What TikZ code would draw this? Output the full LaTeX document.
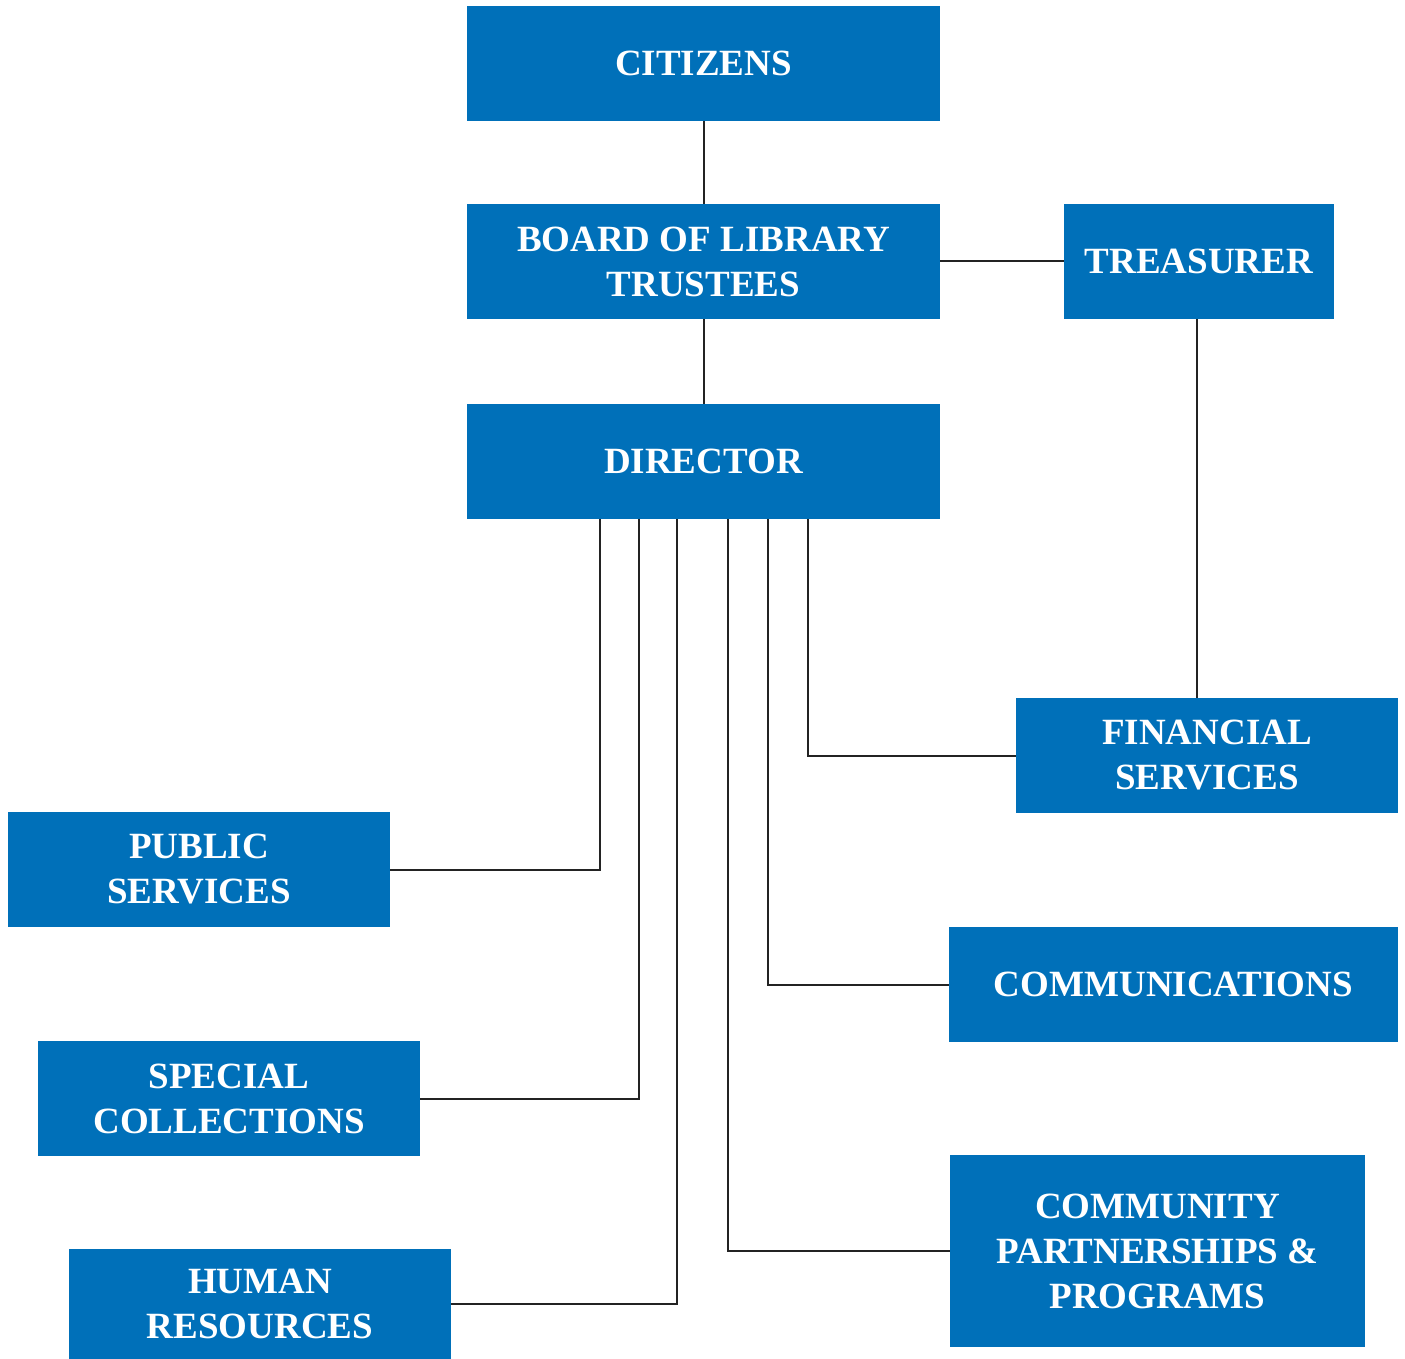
\documentclass[tikz,border=0pt]{standalone}
\usepackage{fontspec}
\setmainfont{Liberation Serif}
\definecolor{boxblue}{RGB}{0,112,185}
\definecolor{linegray}{RGB}{35,35,35}
\begin{document}
\begin{tikzpicture}[x=0.5pt,y=-0.5pt,
  box/.style={fill=boxblue,draw=none,inner sep=0pt,align=center,text=white,
    font=\fontsize{18.5}{22.5}\selectfont\bfseries},
  conn/.style={draw=linegray,line width=1pt}]
\useasboundingbox (0,0) rectangle (1405,1359);
\node[box,minimum width=236.5pt,minimum height=57.5pt] (cit) at (703.5,63.5) {CITIZENS};
\node[box,minimum width=236.5pt,minimum height=57.5pt] (board) at (703.5,261.5) {BOARD OF LIBRARY\\TRUSTEES};
\node[box,minimum width=135pt,minimum height=57.5pt] (treas) at (1199,261.5) {TREASURER};
\node[box,minimum width=236.5pt,minimum height=57.5pt] (dir) at (703.5,461.5) {DIRECTOR};
\node[box,minimum width=191pt,minimum height=57.5pt] (fin) at (1207,755.5) {FINANCIAL\\SERVICES};
\node[box,minimum width=191pt,minimum height=57.5pt] (pub) at (199,869.5) {PUBLIC\\SERVICES};
\node[box,minimum width=224.5pt,minimum height=57.5pt] (comm) at (1173.5,984.5) {COMMUNICATIONS};
\node[box,minimum width=191pt,minimum height=57.5pt] (spec) at (229,1098.5) {SPECIAL\\COLLECTIONS};
\node[box,minimum width=207.5pt,minimum height=96pt] (cpp) at (1157.5,1251) {COMMUNITY\\PARTNERSHIPS \&\\PROGRAMS};
\node[box,minimum width=191pt,minimum height=55pt] (hr) at (260,1304) {HUMAN\\RESOURCES};
\draw[conn] (cit.south) -- (board.north);
\draw[conn] (board.south) -- (dir.north);
\draw[conn] (board.east) -- (treas.west);
\draw[conn] (treas.south -| 1197,0) -- (fin.north -| 1197,0);
\draw[conn] ([xshift=-51.75pt]dir.south) |- (pub.east);
\draw[conn] ([xshift=-32.25pt]dir.south) |- (spec.east);
\draw[conn] ([xshift=-13.25pt]dir.south) |- (hr.east);
\draw[conn] ([xshift=12.25pt]dir.south) |- (cpp.west);
\draw[conn] ([xshift=32.25pt]dir.south) |- (comm.west);
\draw[conn] ([xshift=52.25pt]dir.south) |- (fin.west);
\end{tikzpicture}
\end{document}
